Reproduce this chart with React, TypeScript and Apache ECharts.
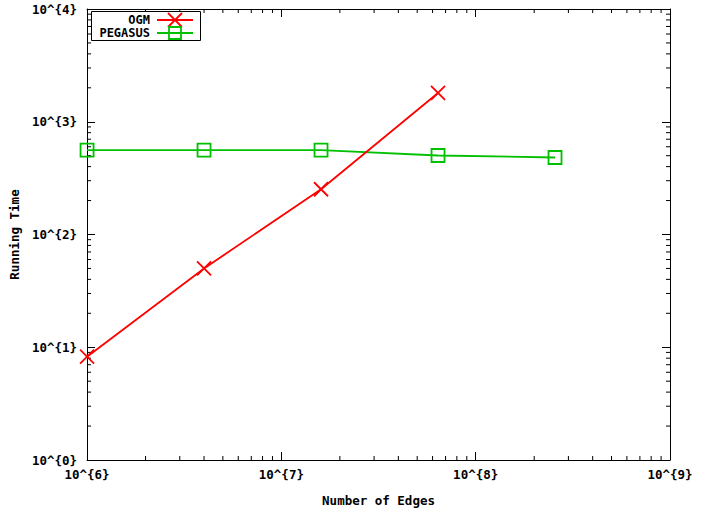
import React, { useEffect, useRef } from "react";
import * as echarts from "echarts";

const edges = [1e6, 4e6, 1.6e7, 6.4e7, 2.56e8];
const ogmTime = [8.25, 50, 252, 1800];
const pegasusTime = [560, 560, 560, 502, 482];
const xDecades = [6, 7, 8];
const yDecades = [0, 1, 2, 3];
const minorMults = [2, 3, 4, 5, 6, 7, 8, 9];

const FONT = "DejaVu Sans Mono";
const RED = "#ff0000";
const GREEN = "#00c000";

export default function App() {
  const ref = useRef<HTMLDivElement>(null);
  useEffect(() => {
    const chart = echarts.init(ref.current!, null, { renderer: "svg" });
    const labelFmt = (v: number) => `10^{${Math.round(Math.log10(v))}}`;
    const xMinor: number[][] = [];
    xDecades.forEach((d) => minorMults.forEach((m) => xMinor.push([m * Math.pow(10, d), 1])));
    const yMinor: number[][] = [];
    yDecades.forEach((d) => minorMults.forEach((m) => yMinor.push([1e6, m * Math.pow(10, d)])));

    const baseAxis = {
      type: "log" as const,
      logBase: 10,
      axisLine: { show: true, lineStyle: { color: "#000", width: 1 } },
      axisTick: { show: true, inside: true, length: 8, lineStyle: { color: "#000" } },
      splitLine: { show: false },
      minorTick: { show: false },
    };
    const labelStyle = { fontFamily: FONT, fontWeight: "bold" as const, fontSize: 12.5, color: "#000" };
    const legendFont = `bold 12px "${FONT}"`;

    chart.setOption({
      animation: false,
      backgroundColor: "#fff",
      grid: { left: 83, right: 40, top: 9, bottom: 49 },
      xAxis: [
        {
          ...baseAxis,
          min: 1e6,
          max: 1e9,
          position: "bottom",
          axisLabel: { ...labelStyle, formatter: labelFmt, margin: 8 },
          name: "Number of Edges",
          nameLocation: "middle",
          nameGap: 34,
          nameTextStyle: labelStyle,
        },
        {
          ...baseAxis,
          min: 1e6,
          max: 1e9,
          position: "top",
          axisLabel: { show: false },
        },
      ],
      yAxis: [
        {
          ...baseAxis,
          min: 1,
          max: 1e4,
          position: "left",
          axisLabel: { ...labelStyle, formatter: labelFmt, margin: 10 },
          name: "Running Time",
          nameLocation: "middle",
          nameGap: 66,
          nameRotate: 90,
          nameTextStyle: labelStyle,
        },
        {
          ...baseAxis,
          min: 1,
          max: 1e4,
          position: "right",
          axisLabel: { show: false },
        },
      ],
      series: [
        {
          name: "OGM",
          type: "line",
          data: ogmTime.map((v, i) => [edges[i], v]),
          lineStyle: { color: RED, width: 1.8 },
          symbol: "path://M0,0L10,10M10,0L0,10",
          symbolSize: 14,
          itemStyle: { color: "transparent", borderColor: RED, borderWidth: 1.8 },
          z: 3,
        },
        {
          name: "PEGASUS",
          type: "line",
          data: pegasusTime.map((v, i) => [edges[i], v]),
          lineStyle: { color: GREEN, width: 1.8 },
          symbol: "rect",
          symbolSize: 13,
          itemStyle: { color: "transparent", borderColor: GREEN, borderWidth: 1.8 },
          z: 2,
        },
        {
          type: "custom",
          silent: true,
          data: xMinor,
          renderItem: (params: any, api: any) => {
            const v = api.value(0);
            const b = api.coord([v, 1]);
            const t = api.coord([v, 1e4]);
            return {
              type: "group",
              children: [
                { type: "line", shape: { x1: b[0], y1: b[1], x2: b[0], y2: b[1] - 4 }, style: { stroke: "#000", lineWidth: 1 } },
                { type: "line", shape: { x1: t[0], y1: t[1], x2: t[0], y2: t[1] + 4 }, style: { stroke: "#000", lineWidth: 1 } },
              ],
            };
          },
          z: 1,
        },
        {
          type: "custom",
          silent: true,
          data: yMinor,
          renderItem: (params: any, api: any) => {
            const v = api.value(1);
            const l = api.coord([1e6, v]);
            const r = api.coord([1e9, v]);
            return {
              type: "group",
              children: [
                { type: "line", shape: { x1: l[0], y1: l[1], x2: l[0] + 4, y2: l[1] }, style: { stroke: "#000", lineWidth: 1 } },
                { type: "line", shape: { x1: r[0], y1: r[1], x2: r[0] - 4, y2: r[1] }, style: { stroke: "#000", lineWidth: 1 } },
              ],
            };
          },
          z: 1,
        },
      ],
      graphic: [
        { type: "rect", shape: { x: 91.5, y: 11.5, width: 109, height: 29 }, style: { fill: "#fff", stroke: "#000", lineWidth: 1 }, z: 10 },
        { type: "text", x: 150, y: 20, style: { text: "OGM", font: legendFont, lineHeight: 12, fill: "#000", textAlign: "right", textVerticalAlign: "middle" }, z: 11 },
        { type: "text", x: 150, y: 33, style: { text: "PEGASUS", font: legendFont, lineHeight: 12, fill: "#000", textAlign: "right", textVerticalAlign: "middle" }, z: 11 },
        { type: "line", shape: { x1: 157, y1: 20, x2: 193, y2: 20 }, style: { stroke: RED, lineWidth: 1.8 }, z: 11 },
        { type: "line", shape: { x1: 168, y1: 13, x2: 182, y2: 27 }, style: { stroke: RED, lineWidth: 1.8 }, z: 11 },
        { type: "line", shape: { x1: 182, y1: 13, x2: 168, y2: 27 }, style: { stroke: RED, lineWidth: 1.8 }, z: 11 },
        { type: "line", shape: { x1: 157, y1: 33, x2: 193, y2: 33 }, style: { stroke: GREEN, lineWidth: 1.8 }, z: 11 },
        { type: "rect", shape: { x: 169, y: 27, width: 12, height: 12 }, style: { fill: "transparent", stroke: GREEN, lineWidth: 1.8 }, z: 11 },
      ],
    });
    return () => chart.dispose();
  }, []);
  return <div ref={ref} style={{ width: 710, height: 512, position: "absolute", left: 0, top: 0 }} />;
}
